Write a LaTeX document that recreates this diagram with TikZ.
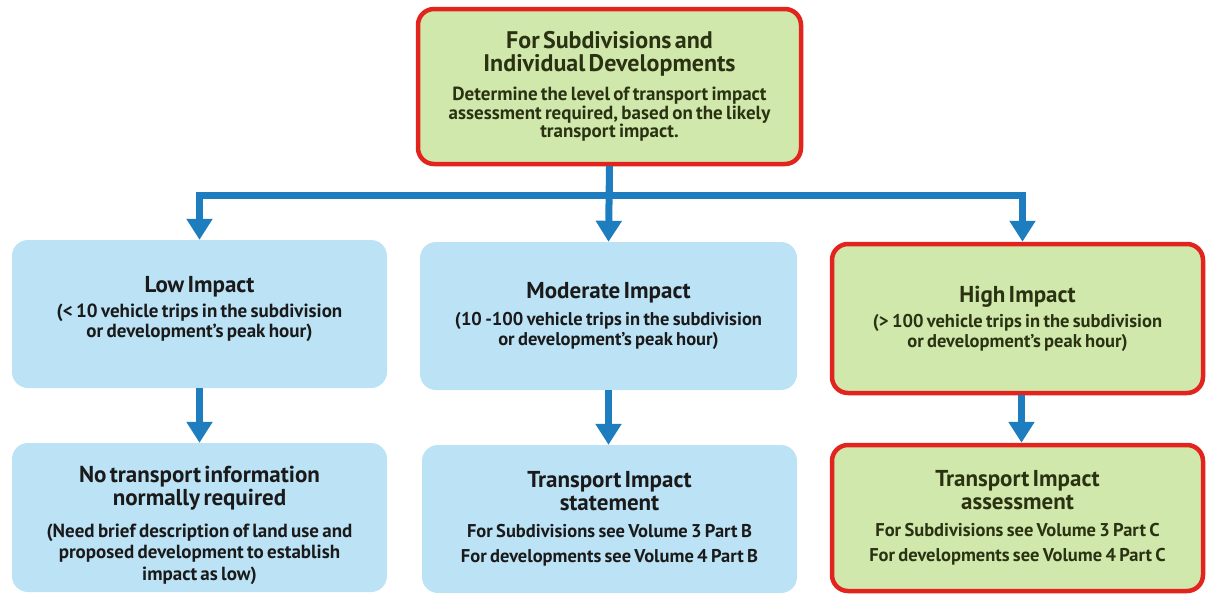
\documentclass[tikz,border=0pt]{standalone}
\usepackage{fontspec}
\setmainfont{PT Sans}
\usetikzlibrary{arrows.meta}
\definecolor{boxblue}{HTML}{BCE2F5}
\definecolor{boxgreen}{HTML}{D0E8AC}
\definecolor{boxred}{HTML}{E3231E}
\definecolor{flowblue}{HTML}{1E7DBE}
\definecolor{txtdark}{HTML}{1A1A1A}
\definecolor{txtolive}{HTML}{2A3212}
\newcommand\ttlf{\fontsize{23}{23}\selectfont\bfseries}
\newcommand\subf{\fontsize{18.5}{20}\selectfont\bfseries}
\tikzset{
  basebox/.style={rounded corners=16pt, align=center, inner sep=0pt, text width=365pt, minimum width=375pt},
  bluebox/.style={basebox, fill=boxblue, draw=none, text=txtdark},
  greenbox/.style={basebox, fill=boxgreen, draw=boxred, line width=4.5pt, text=txtolive},
  flow/.style={draw=flowblue, line width=7pt, line cap=butt, line join=miter},
  flowarrow/.style={flow, -{Triangle[width=25pt,length=21pt]}},
}
\begin{document}
\begin{tikzpicture}[x=1pt,y=-1pt]
\useasboundingbox (0,0) rectangle (1208,595);
% boxes
\node[greenbox, minimum width=383pt, minimum height=155pt, text width=372pt] (top) at (609.5,86.5)
  {\fontsize{24}{23}\selectfont\bfseries For Subdivisions and\\Individual Developments\par
   \vspace{11pt}\fontsize{19}{18.5}\selectfont\bfseries Determine the level of transport impact\\assessment required, based on the likely\\transport impact.\par};
\node[bluebox, minimum height=148pt] (low) at (199.5,314)
  {\ttlf Low Impact\par\vspace{5pt}\fontsize{19}{20}\selectfont\bfseries (< 10 vehicle trips in the subdivision\\or development’s peak hour)\par\vspace{10pt}};
\node[bluebox, minimum width=377pt, minimum height=148pt] (mid) at (608.5,316)
  {\ttlf Moderate Impact\par\vspace{7pt}\subf (10 -100 vehicle trips in the subdivision\\or development’s peak hour)\par};
\node[greenbox, minimum width=371pt, minimum height=149pt] (high) at (1017.5,318.5)
  {\ttlf High Impact\par\vspace{5pt}\subf (> 100 vehicle trips in the subdivision\\or development’s peak hour)\par};
\node[bluebox, minimum height=149pt] (lowres) at (199.5,517.5)
  {\ttlf No transport information\\normally required\par\vspace{10pt}\fontsize{19}{21.5}\selectfont\bfseries (Need brief description of land use and\\proposed development to establish\\impact as low)\par\vspace{-16pt}};
\node[bluebox, minimum height=148pt] (midres) at (609.5,519)
  {\ttlf Transport Impact\\statement\par\vspace{2pt}\fontsize{18.5}{25}\selectfont\bfseries For Subdivisions see Volume 3 Part B\\For developments see Volume 4 Part B\par};
\node[greenbox, minimum width=371pt, minimum height=146pt] (highres) at (1017.5,518)
  {\ttlf Transport Impact\\assessment\par\vspace{2pt}\fontsize{18.5}{25}\selectfont\bfseries For Subdivisions see Volume 3 Part C\\For developments see Volume 4 Part C\par};
% connectors
\coordinate (split) at (609.5,195);
\draw[flow] (top.south) -- (split);
\draw[flowarrow] (split) -| (low.north);
\draw[flowarrow] (split) -| ([xshift=5pt]high.north);
\draw[flowarrow] (top.south) -- (mid.north);
\draw[flowarrow] (low.south) -- (lowres.north);
\draw[flowarrow] (mid.south) -- (midres.north -| mid.south);
\draw[flowarrow] ([xshift=4pt]high.south) -- ([xshift=4pt]highres.north);
\end{tikzpicture}
\end{document}
